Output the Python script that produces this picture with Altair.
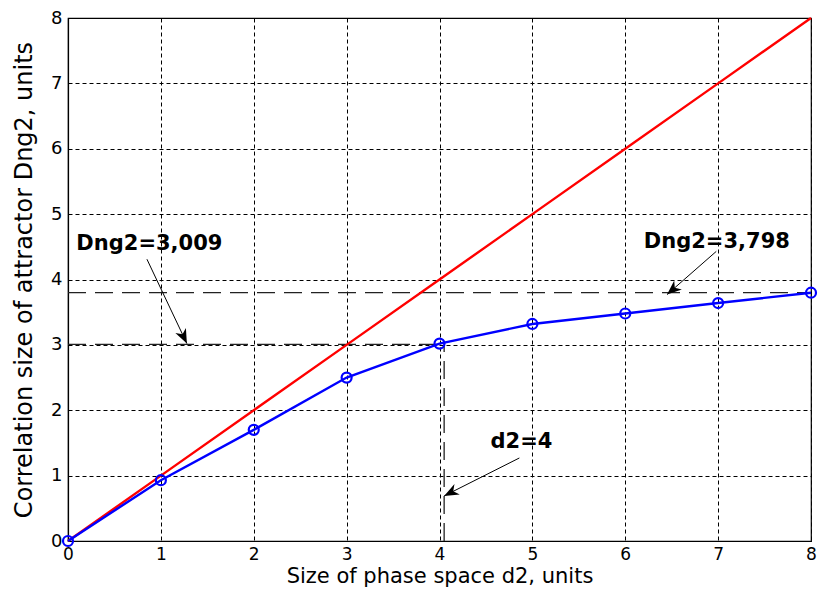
import altair as alt
import pandas as pd

# ---- data ----
d2 = [0, 1, 2, 3, 4, 5, 6, 7, 8]
dng2_measured = [0.0, 0.93, 1.70, 2.50, 3.02, 3.32, 3.48, 3.64, 3.798]
dng2_limit = [0, 1, 2, 3, 4, 5, 6, 7, 8]

ref_levels = [3.798, 3.009]
ref_x_start = [0, 0]
ref_x_end = [8, 4.05]
vline_x = [4.05]
vline_y_top = [3.009]
vline_y_bottom = [0]

ann_text = ["Dng2=3,009", "Dng2=3,798", "d2=4"]
ann_x = [0.09, 6.2, 4.55]
ann_y = [4.54, 4.58, 1.52]
arrow_x0 = [0.85, 6.98, 4.86]
arrow_y0 = [4.31, 4.43, 1.27]
arrow_x1 = [1.28, 6.45, 4.05]
arrow_y1 = [3.02, 3.77, 0.69]
arrow_angle = [154.6, 229.1, 242.9]

tick_values = [0, 1, 2, 3, 4, 5, 6, 7, 8]

FONT = "DejaVu Sans"
XT = "Size of phase space d2, units"
YT = "Correlation size of attractor Dng2, units"

xscale = alt.Scale(domain=[0, 8], nice=False, zero=False)
yscale = alt.Scale(domain=[0, 8], nice=False, zero=False)
xaxis = alt.Axis(values=tick_values, labelPadding=5, titlePadding=3,
                 labelFlush=False, labelFontSize=17, titleFontSize=21)
yaxis = alt.Axis(values=tick_values, labelPadding=6, titlePadding=14,
                 labelFlush=False, labelFontSize=18, titleFontSize=24)


def X(f):
    return alt.X(f, type="quantitative", scale=xscale, axis=xaxis, title=XT)


def Y(f):
    return alt.Y(f, type="quantitative", scale=yscale, axis=yaxis, title=YT)


series = pd.DataFrame({"x": d2, "meas": dng2_measured, "lim": dng2_limit})
hlines = pd.DataFrame({"y": ref_levels, "xs": ref_x_start, "xe": ref_x_end})
vlines = pd.DataFrame({"x": vline_x, "yt": vline_y_top, "yb": vline_y_bottom})
ann = pd.DataFrame({"t": ann_text, "x": ann_x, "y": ann_y})
arrows = pd.DataFrame({"x0": arrow_x0, "y0": arrow_y0, "x1": arrow_x1,
                       "y1": arrow_y1, "ang": arrow_angle})

dash = [18, 9]

h = alt.Chart(hlines).mark_rule(color="#222222", strokeWidth=1.3, strokeDash=dash).encode(
    x=X("xs"), x2="xe", y=Y("y"))
v = alt.Chart(vlines).mark_rule(color="#222222", strokeWidth=1.3, strokeDash=dash).encode(
    x=X("x"), y=Y("yb"), y2="yt")

red = alt.Chart(series).mark_line(color="#ff0000", strokeWidth=2.4).encode(
    x=X("x"), y=Y("lim"))
blue = alt.Chart(series).mark_line(color="#0000ff", strokeWidth=2.4).encode(
    x=X("x"), y=Y("meas"))
pts = alt.Chart(series).mark_point(shape="circle", filled=False, size=100,
                                   strokeWidth=2.2, color="#0000ff", opacity=1).encode(
    x=X("x"), y=Y("meas"))

arr = alt.Chart(arrows).mark_rule(color="black", strokeWidth=1).encode(
    x=X("x0"), y=Y("y0"), x2="x1", y2="y1")
heads = alt.Chart(arrows).mark_point(
    shape="M0,0 L0.4,1 L0,0.7 L-0.4,1 Z", filled=True, size=850,
    color="black", opacity=1, strokeWidth=0).encode(
    x=X("x1"), y=Y("y1"), angle=alt.Angle("ang:Q", scale=None))

txt = alt.Chart(ann).mark_text(align="left", baseline="middle", font=FONT,
                               fontSize=21, fontWeight="bold", color="black").encode(
    x=X("x"), y=Y("y"), text="t:N")

chart = alt.layer(h, v, red, blue, pts, arr, heads, txt).properties(
    width=743, height=523,
    autosize=alt.AutoSizeParams(type="none"),
    padding={"left": 60, "top": 10, "right": 7, "bottom": 53},
    background="white",
).configure_axis(
    grid=True, gridColor="black", gridDash=[4, 3], gridOpacity=1, gridWidth=1,
    domainColor="black", domainWidth=1.2, ticks=False,
    labelFont=FONT, labelColor="black",
    titleFont=FONT, titleFontWeight="normal", titleColor="black",
).configure_view(stroke="black", strokeWidth=1.2)

chart.save("out.html", embed_options={"renderer": "svg", "actions": False})
